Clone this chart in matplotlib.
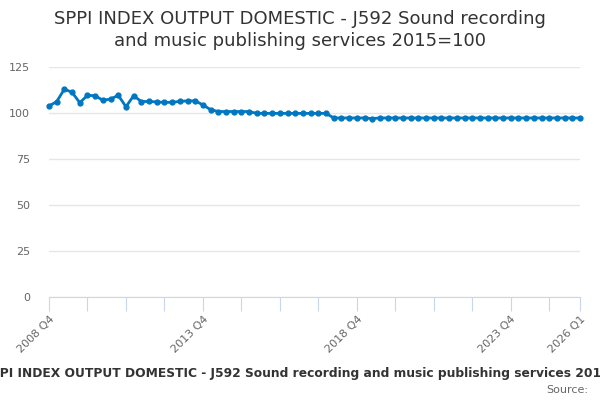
import matplotlib
matplotlib.use("Agg")
import matplotlib.pyplot as plt

title_lines = ["SPPI INDEX OUTPUT DOMESTIC - J592 Sound recording",
               "and music publishing services 2015=100"]
series_name = "SPPI INDEX OUTPUT DOMESTIC - J592 Sound recording and music publishing services 2015=100"

# Quarterly periods 2008 Q4 .. 2026 Q1
periods = []
y, q = 2008, 4
while (y, q) <= (2026, 1):
    periods.append(f"{y} Q{q}")
    q += 1
    if q > 4:
        q = 1
        y += 1

values = [103.8, 106.2, 113.0, 111.2, 105.6, 109.6, 109.4, 106.9, 107.6, 109.6,
          103.4, 109.4, 106.2, 106.3, 106.0, 105.8, 105.8, 106.3, 106.6, 106.6,
          104.4, 101.8, 100.8, 100.8, 100.8, 100.8, 100.8, 99.8, 99.8, 99.8,
          99.8, 99.8, 99.8, 99.8, 99.8, 99.8, 99.8, 97.3, 97.3, 97.3,
          97.3, 97.3, 97.0, 97.3, 97.3, 97.3, 97.3, 97.3, 97.3, 97.3,
          97.3, 97.3, 97.3, 97.3, 97.3, 97.3, 97.3, 97.3, 97.3, 97.3,
          97.3, 97.3, 97.3, 97.3, 97.3, 97.3, 97.3, 97.3, 97.3, 97.3]

yticks = [0, 25, 50, 75, 100, 125]
labelled = ["2008 Q4", "2013 Q4", "2018 Q4", "2023 Q4", "2026 Q1"]

fig = plt.figure(figsize=(6, 4), dpi=100)
ax = fig.add_axes([49/600, 1-297/400, (580-49)/600, (297-67)/400])

x = list(range(len(values)))
ax.plot(x, values, color="#0077c0", lw=2, marker="o", ms=3.5, zorder=3, clip_on=False)

ax.set_xlim(0, len(values)-1)
ax.set_ylim(0, 125)
ax.set_yticks(yticks)
ax.set_yticklabels([str(v) for v in yticks], color="#666666", fontsize=8)
ax.grid(axis="y", color="#e6e6e6", lw=1)
ax.set_axisbelow(True)
for s in ["top", "right", "left"]:
    ax.spines[s].set_visible(False)
ax.spines["bottom"].set_color("#ccd6eb")
ax.tick_params(axis="y", length=0, pad=13.5)

tick_pos = list(range(0, len(values), 5)) + [len(values)-1]
ax.set_xticks(tick_pos)
ax.set_xticklabels([periods[i] if periods[i] in labelled else "" for i in tick_pos],
                   rotation=45, ha="right", rotation_mode="anchor",
                   color="#666666", fontsize=8)
ax.tick_params(axis="x", length=10, color="#ccd6eb", pad=2)

fig.text(0.5, 1-24/400, title_lines[0], ha="center", va="baseline", fontsize=13, color="#333333")
fig.text(0.5, 1-46/400, title_lines[1], ha="center", va="baseline", fontsize=13, color="#333333")
fig.text(0.5 + 14/600, 1-374/400, series_name, ha="center", va="center", fontsize=8.8,
         fontweight="bold", color="#333333")
fig.text(588/600, 1-390/400, "Source:", ha="right", va="center", fontsize=8, color="#666666")

fig.savefig("out.png", dpi=100)
